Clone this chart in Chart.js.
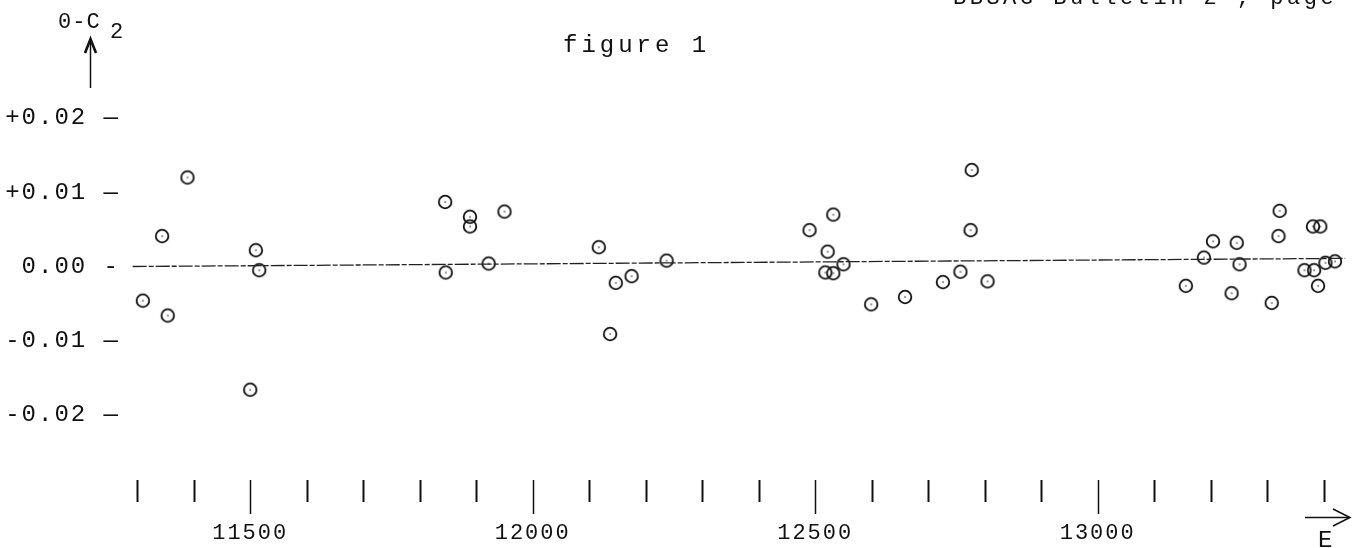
<!DOCTYPE html>
<html>
<head>
<meta charset="utf-8">
<script src="https://cdn.jsdelivr.net/npm/chart.js@4.4.1/dist/chart.umd.min.js"></script>
<style>
  html, body { margin: 0; padding: 0; background: #fff; }
  canvas { display: block; }
</style>
</head>
<body>
<canvas id="chart" width="1353" height="548"></canvas>
<script>
// epoch E and O-C values
const epochs = [11310, 11344, 11354, 11389, 11500, 11510, 11516,
  11845, 11846, 11889, 11889, 11922, 11950,
  12117, 12137, 12147, 12175, 12237,
  12490, 12518, 12522, 12532, 12532, 12550, 12599, 12659, 12726, 12757, 12775, 12777, 12805,
  13156, 13188, 13204, 13237, 13246, 13251, 13308, 13320, 13322, 13366, 13381, 13383, 13390, 13394, 13403, 13420];
const ocValues = [-0.0046, 0.0041, -0.0066, 0.0120, -0.0166, 0.0022, -0.0005,
  0.0087, -0.0008, 0.0067, 0.0054, 0.0004, 0.0074,
  0.0026, -0.0091, -0.0022, -0.0013, 0.0008,
  0.0049, -0.0008, 0.0020, 0.0070, -0.0009, 0.0003, -0.0051, -0.0041, -0.0021, -0.0007, 0.0049, 0.0130, -0.0020,
  -0.0026, 0.0012, 0.0034, -0.0036, 0.0032, 0.0003, -0.0049, 0.0041, 0.0075, -0.0005, 0.0054, -0.0005, -0.0026, 0.0054, 0.0005, 0.0007];

// fitted line drawn through the points
const fitEpochs = [11292, 13438];
const fitValues = [0, 0.0011];

const yTickValues = [-0.02, -0.01, 0, 0.01, 0.02];
const yTickLabels = ["-0.02 \u2014", "-0.01 \u2014", "0.00 -", "+0.01 \u2014", "+0.02 \u2014"];
const xLabelEvery = 500;

const FONT = "'Liberation Mono', 'DejaVu Sans Mono', monospace";

// circle with a dot in the middle
const dotCircle = document.createElement("canvas");
dotCircle.width = 18;
dotCircle.height = 18;
(() => {
  const c = dotCircle.getContext("2d");
  c.strokeStyle = "#111";
  c.lineWidth = 1.8;
  c.beginPath();
  c.arc(9, 9, 6.3, 0, Math.PI * 2);
  c.stroke();
  c.fillStyle = "#111";
  c.fillRect(8.4, 8.4, 1.3, 1.3);
})();

const pagePlugin = {
  id: "page",
  beforeDraw(chart) {
    chart.ctx.letterSpacing = "2px";
  },
  afterDraw(chart) {
    const ctx = chart.ctx;
    const xs = chart.scales.x;
    const bottom = chart.chartArea.bottom;
    ctx.save();
    ctx.strokeStyle = "#111";
    ctx.fillStyle = "#111";

    // x tick marks, every 100, longer where labelled
    xs.ticks.forEach((t) => {
      const v = Math.round(t.value);
      if (v % 100 !== 0) return;
      const x = Math.round(xs.getPixelForValue(v)) + 0.5;
      const major = v % xLabelEvery === 0;
      ctx.lineWidth = major ? 1.5 : 2;
      ctx.beginPath();
      ctx.moveTo(x, bottom + 10);
      ctx.lineTo(x, bottom + (major ? 44 : 32));
      ctx.stroke();
    });

    // header line, cut off at top of the page
    ctx.letterSpacing = "3.5px";
    ctx.font = "22px " + FONT;
    ctx.textBaseline = "alphabetic";
    ctx.textAlign = "left";
    ctx.fillText("BBSAG Bulletin 2 , page 4", 953, 4);

    // title
    ctx.letterSpacing = "4px";
    ctx.font = "24px " + FONT;
    ctx.fillText("figure 1", 563, 52);

    // y axis label with arrow
    ctx.letterSpacing = "1px";
    ctx.font = "22px " + FONT;
    ctx.fillText("0-C", 58, 28);
    ctx.fillText("2", 110, 38);
    ctx.lineWidth = 1.5;
    ctx.beginPath();
    ctx.moveTo(90.5, 88);
    ctx.lineTo(90.5, 42);
    ctx.stroke();
    ctx.lineWidth = 2.6;
    ctx.beginPath();
    ctx.moveTo(85, 53);
    ctx.lineTo(90.5, 39);
    ctx.lineTo(96, 53);
    ctx.stroke();

    // x axis arrow and E
    ctx.lineWidth = 1.5;
    ctx.beginPath();
    ctx.moveTo(1305, 517.5);
    ctx.lineTo(1349, 517.5);
    ctx.stroke();
    ctx.beginPath();
    ctx.moveTo(1333, 509);
    ctx.lineTo(1350, 517.5);
    ctx.lineTo(1333, 526);
    ctx.stroke();
    ctx.font = "24px " + FONT;
    ctx.fillText("E", 1318, 547);
    ctx.restore();
  }
};

new Chart(document.getElementById("chart"), {
  type: "scatter",
  data: {
    datasets: [
      {
        type: "line",
        data: fitEpochs.map((e, i) => ({ x: e, y: fitValues[i] })),
        borderColor: "#222",
        borderWidth: 1.3,
        borderDash: [14, 2, 5, 2],
        pointRadius: 0,
        clip: false
      },
      {
        data: epochs.map((e, i) => ({ x: e, y: ocValues[i] })),
        pointStyle: dotCircle,
        pointRadius: 7,
        clip: false
      }
    ]
  },
  options: {
    responsive: false,
    animation: false,
    events: [],
    layout: { padding: 0 },
    plugins: {
      legend: { display: false },
      tooltip: { enabled: false }
    },
    scales: {
      x: {
        type: "linear",
        min: 11278.4,
        max: 13437.7,
        grid: { display: false, drawTicks: false },
        border: { display: false },
        afterFit: (s) => {
          s.height = 78;
          s.paddingLeft = 0;
          s.paddingRight = 0;
        },
        ticks: {
          stepSize: 100,
          autoSkip: false,
          maxRotation: 0,
          includeBounds: false,
          padding: 50,
          color: "#111",
          font: { family: FONT, size: 22 },
          callback: (v) => (Math.round(v) % xLabelEvery === 0 ? String(Math.round(v)) : "")
        }
      },
      y: {
        type: "linear",
        min: -0.027417,
        max: 0.034834,
        grid: { display: false, drawTicks: false },
        border: { display: false },
        afterFit: (s) => {
          s.width = 125;
          s.paddingTop = 0;
          s.paddingBottom = 0;
        },
        afterBuildTicks: (s) => { s.ticks = yTickValues.map((v) => ({ value: v })); },
        ticks: {
          padding: 5,
          color: "#111",
          font: { family: FONT, size: 24 },
          callback: (v) => {
            const i = yTickValues.findIndex((t) => Math.abs(t - v) < 1e-9);
            return i >= 0 ? yTickLabels[i] : "";
          }
        }
      }
    }
  },
  plugins: [pagePlugin]
});
</script>
</body>
</html>
